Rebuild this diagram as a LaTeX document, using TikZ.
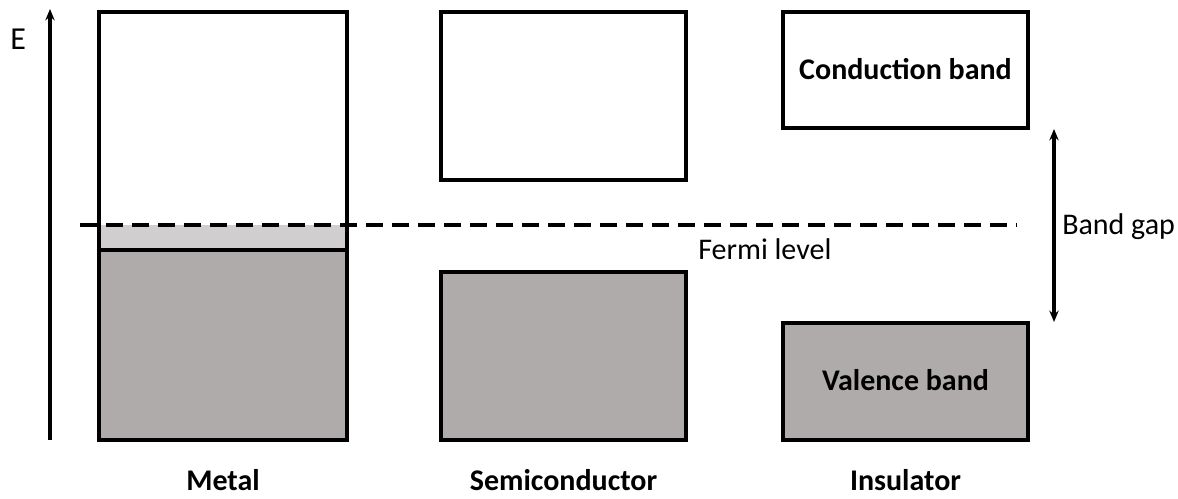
\documentclass[tikz,border=0pt]{standalone}
\usepackage{fontspec}
\setmainfont{Carlito}
\usetikzlibrary{arrows.meta}
\definecolor{bandgray}{RGB}{175,171,171}
\definecolor{lightband}{RGB}{208,206,206}
\begin{document}
\begin{tikzpicture}[x=0.75pt,y=-0.75pt,
  band/.style={draw=black,line width=2.4pt,minimum width=#1,inner sep=0pt},
  lbl/.style={font=\fontsize{22.5}{26}\selectfont\bfseries,inner sep=0pt},
  txt/.style={font=\fontsize{22.5}{26}\selectfont,inner sep=0pt},
  tip/.style={-{Stealth[length=8.5pt,width=7pt]},line width=2.3pt}]
\useasboundingbox (0,0) rectangle (1178,499);
% metal fills
\fill[lightband] (99,225) rectangle (347,250);
\fill[bandgray] (99,250) rectangle (347,440);
\node[band=186pt,minimum height=321pt] (metal) at (223,226) {};
\draw[line width=2.4pt] (metal.west |- 0,250) coordinate (mL) -- (metal.east |- 0,250) coordinate (mR);
% semiconductor
\node[band=183.75pt,minimum height=126pt] (scb) at (563.5,96) {};
\node[band=183.75pt,minimum height=126pt,fill=bandgray] (svb) at (563.5,356) {};
% insulator
\node[band=183.75pt,minimum height=87pt] (icb) at (905.5,70) {};
\node[band=183.75pt,minimum height=87.75pt,fill=bandgray] (ivb) at (905.5,381.5) {};
\node[lbl,anchor=base] (cbt) at (905.5,80) {Conduction band};
\node[lbl,anchor=base] (vbt) at (905.5,390) {Valence band};
% fermi level
\coordinate (fA) at (80,225);
\coordinate (fB) at (1017,225);
\draw[line width=2.5pt,dash pattern=on 12.75pt off 6.75pt] (fA) -- (fB);
\node[txt,anchor=base west] (fermi) at (698,259) {Fermi level};
% energy axis
\coordinate (eA) at (50,440);
\coordinate (eB) at (50,9);
\draw[tip] (eA) -- (eB);
\node[txt,anchor=base west,font=\fontsize{24}{28}\selectfont] (E) at (10,50) {E};
% band gap
\coordinate (gA) at (1054,129);
\coordinate (gB) at (1054,322);
\draw[tip,{Stealth[length=8.5pt,width=7pt]}-{Stealth[length=8.5pt,width=7pt]}] (gA) -- (gB);
\node[txt,anchor=base west] (gap) at (1062,234) {Band gap};
% labels
\node[lbl,anchor=base] (lm) at (223,490) {Metal};
\node[lbl,anchor=base] (ls) at (563.5,490) {Semiconductor};
\node[lbl,anchor=base] (li) at (905.5,490) {Insulator};
\end{tikzpicture}
\end{document}
